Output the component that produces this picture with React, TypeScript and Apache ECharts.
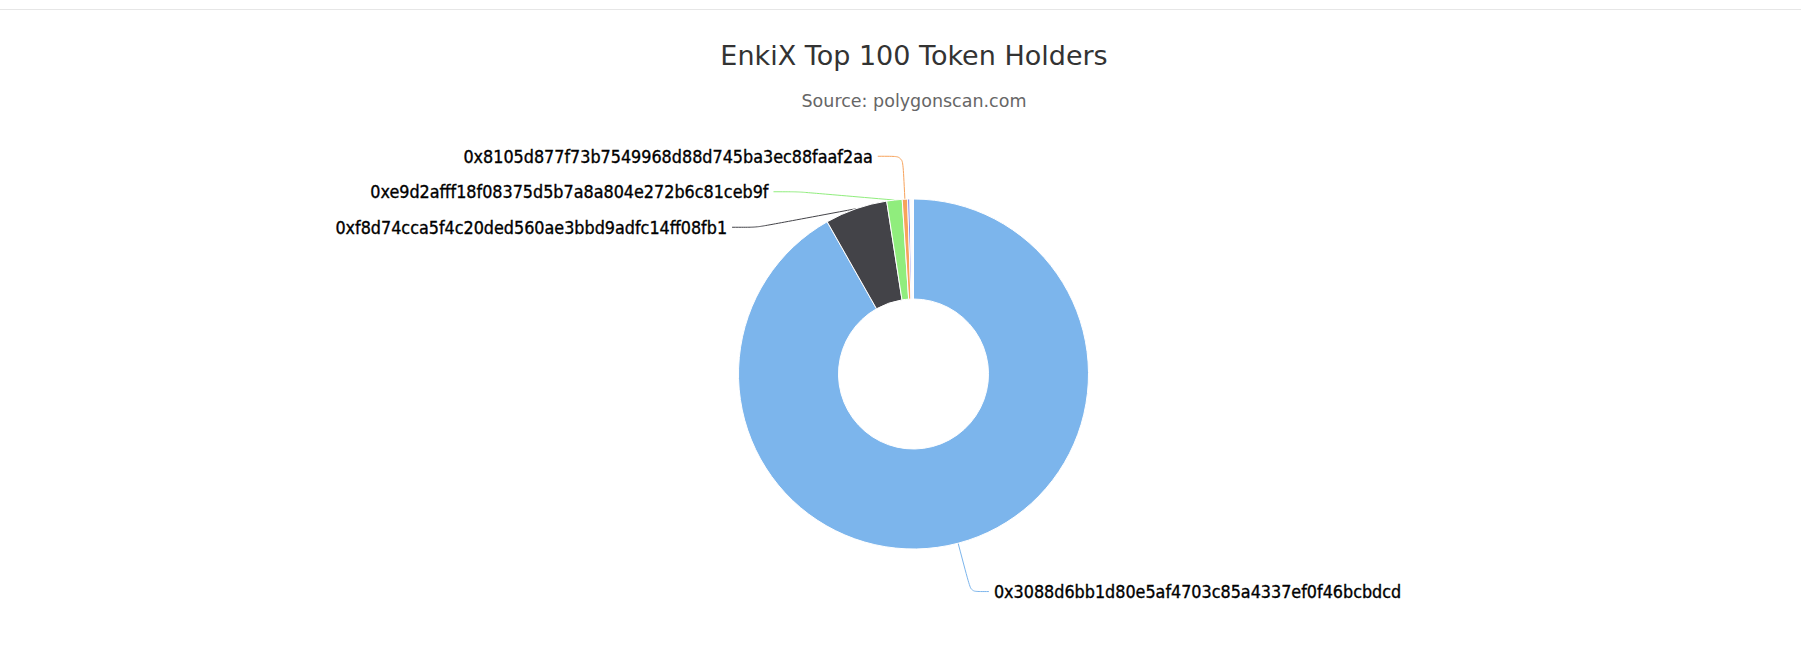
import { useEffect, useRef } from "react";
import * as echarts from "echarts";

// share of the top-100 supply (%)
const holders = [
  "0x3088d6bb1d80e5af4703c85a4337ef0f46bcbdcd",
  "0xf8d74cca5f4c20ded560ae3bbd9adfc14ff08fb1",
  "0xe9d2afff18f08375d5b7a8a804e272b6c81ceb9f",
  "0x8105d877f73b7549968d88d745ba3ec88faaf2aa",
];
const topShares = [91.79, 5.76, 1.42, 0.49, 0.21];
const tailShares = [
  0.052, 0.041, 0.036, 0.031, 0.027, 0.024, 0.021, 0.019, 0.017, 0.015,
  0.013, 0.012, 0.011, 0.01,
];

const palette = [
  "#7cb5ec",
  "#434348",
  "#90ed7d",
  "#f7a35c",
  "#8085e9",
  "#f15c80",
  "#e4d354",
  "#2b908f",
  "#f45b5b",
  "#91e8e1",
];

const FONT = "DejaVu Sans";
const LABEL_FONT = "'DejaVu Sans Condensed', 'DejaVu Sans'";

export default function App() {
  const containerRef = useRef<HTMLDivElement>(null);

  useEffect(() => {
    document.body.style.margin = "0";
    if (!containerRef.current) return;
    const chart = echarts.init(containerRef.current, null, { renderer: "svg" });

    const values = [...topShares, ...tailShares];
    const data = values.map((v, i) => {
      const item: any = {
        name: holders[i] ?? `Holder ${i + 1}`,
        value: v,
      };
      // the largest slice's label sits a bit further out (bottom right)
      if (i === 0) item.labelLine = { length: 50, length2: 18 };
      return item;
    });

    chart.setOption({
      animation: false,
      backgroundColor: "#ffffff",
      color: palette,
      title: [
        {
          text: "EnkiX Top 100 Token Holders",
          left: 914,
          top: 42,
          textAlign: "center",
          padding: 0,
          textStyle: {
            fontFamily: FONT,
            fontSize: 27,
            fontWeight: "normal",
            color: "#333333",
          },
        },
        {
          text: "Source: polygonscan.com",
          left: 914,
          top: 92,
          textAlign: "center",
          padding: 0,
          textStyle: {
            fontFamily: FONT,
            fontSize: 17.5,
            fontWeight: "normal",
            color: "#666666",
          },
        },
      ],
      graphic: [
        {
          type: "line",
          shape: { x1: 0, y1: 9.5, x2: 1801, y2: 9.5 },
          style: { stroke: "#e6e6e6", lineWidth: 1 },
          silent: true,
        },
      ],
      series: [
        {
          type: "pie",
          center: [913.5, 374],
          radius: [75, 175],
          startAngle: 90,
          clockwise: true,
          minShowLabelAngle: 1,
          avoidLabelOverlap: true,
          data,
          itemStyle: { borderColor: "#ffffff", borderWidth: 1 },
          label: {
            show: true,
            position: "outside",
            fontFamily: LABEL_FONT,
            fontSize: 17.8,
            fontWeight: "normal",
            color: "#000000",
            textBorderColor: "#000000",
            textBorderWidth: 0.35,
            lineHeight: 18,
            padding: [7.75, 0, 7.75, 0],
            distanceToLabelLine: 5,
            formatter: "{b}",
          },
          labelLine: {
            show: true,
            length: 43,
            length2: 25,
            smooth: 0.2,
            lineStyle: { width: 1 },
          },
          emphasis: { disabled: true },
        },
      ],
    });

    return () => chart.dispose();
  }, []);

  return <div ref={containerRef} style={{ width: 1801, height: 650 }} />;
}
